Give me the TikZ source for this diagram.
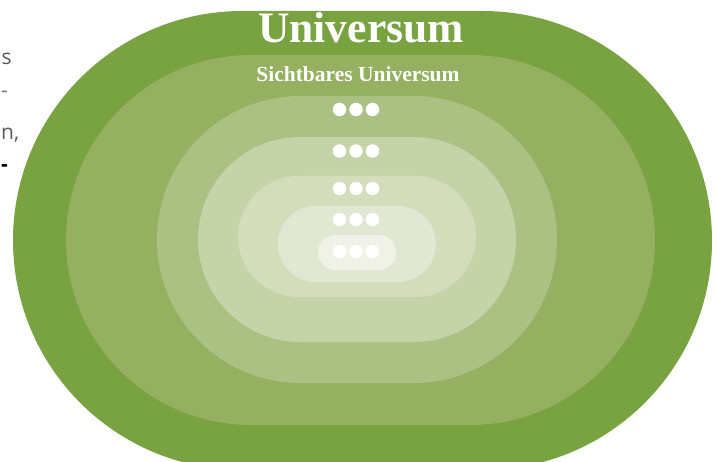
\documentclass[tikz,border=0pt]{standalone}
\usepackage{fontspec}
\setmainfont{Liberation Serif}
\newfontfamily\sidefont{Open Sans}
\definecolor{gA}{RGB}{121,163,64}
\definecolor{gB}{RGB}{149,176,96}
\definecolor{gC}{RGB}{171,193,132}
\definecolor{gD}{RGB}{197,211,168}
\definecolor{gE}{RGB}{211,221,188}
\definecolor{gF}{RGB}{224,231,211}
\definecolor{gG}{RGB}{240,242,231}
\tikzset{
  layer/.style={fill=#1},
  dotmark/.style={circle, fill=white, inner sep=0pt, minimum size=13.5pt},
  titletext/.style={text=white, font=\bfseries\fontsize{43.5}{43.5}\selectfont, inner sep=0pt},
  subtext/.style={text=white, font=\bfseries\fontsize{21.5}{21.5}\selectfont, inner sep=0pt},
  sidetext/.style={font=\sidefont\fontsize{21}{21}\selectfont, inner sep=0pt, anchor=base west}
}
\begin{document}
\begin{tikzpicture}[x=1pt,y=-1pt]
\useasboundingbox (0,0) rectangle (717,462);
\clip (0,0) rectangle (717,462);
% nested stadium layers
\fill[layer=gA, rounded corners=229.4pt] (13,11) rectangle (712,470);
\fill[layer=gB, rounded corners=184.9pt] (66,55) rectangle (655,425);
\fill[layer=gC, rounded corners=143.4pt] (157,96) rectangle (557,383);
\fill[layer=gD, rounded corners=102.4pt] (198,137) rectangle (516,342);
\fill[layer=gE, rounded corners=60.4pt] (238,176) rectangle (476,297);
\fill[layer=gF, rounded corners=37.9pt] (278,206) rectangle (436,282);
\fill[layer=gG, rounded corners=17.4pt] (318,235) rectangle (396,270);
% labels
\node[titletext, anchor=base] (title) at (361,43) {Universum};
\node[subtext, anchor=base] (sub) at (358,82) {Sichtbares Universum};
% dots
\foreach \r/\yy in {1/109.5,2/151,3/188.5,4/219.5,5/251.5}{
  \foreach \c/\xx in {1/339.5,2/356,3/372.5}{
    \node[dotmark] (d\r\c) at (\xx,\yy) {};
  }
}
% side text fragments
\node[sidetext, text=black!65] (s1) at (1.5,65) {s};
\node[sidetext, text=black!55] (s2) at (1,98) {-};
\node[sidetext, text=black!65] (s3) at (1,140) {n,};
\node[sidetext, text=black, font=\sidefont\bfseries\fontsize{21}{21}\selectfont] (s4) at (1,172) {-};
\end{tikzpicture}
\end{document}
